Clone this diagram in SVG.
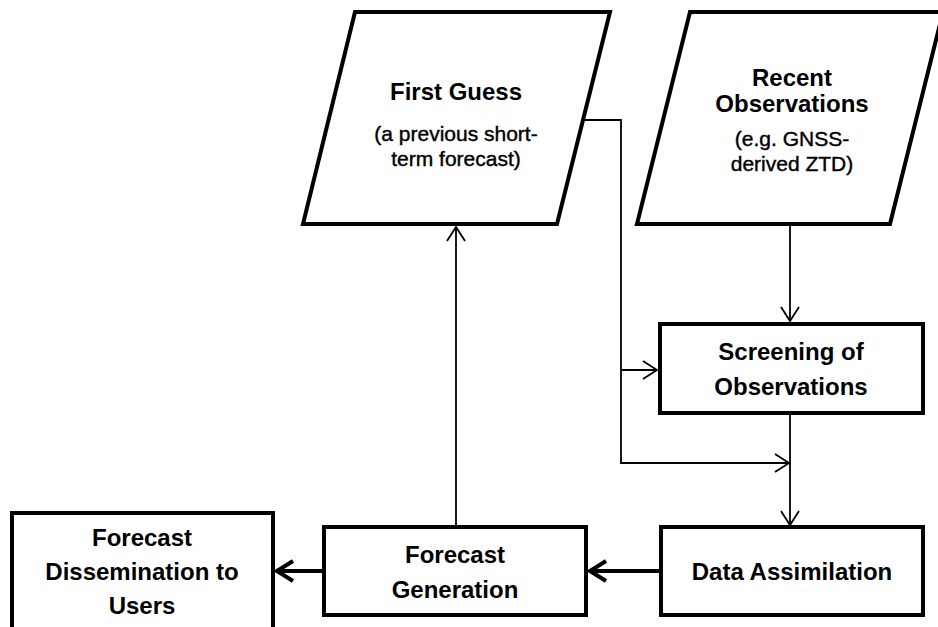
<svg xmlns="http://www.w3.org/2000/svg" width="938" height="627" viewBox="0 0 938 627">
  <style>
    .shape { fill: #ffffff; stroke: #000000; stroke-width: 4; stroke-linejoin: miter; }
    .title { font-family: "Liberation Sans", Arial, sans-serif; font-weight: bold; font-size: 24px; fill: #000000; text-anchor: middle; }
    .sub { font-family: "Liberation Sans", Arial, sans-serif; font-size: 21px; fill: #000000; stroke: #000000; stroke-width: 0.4; text-anchor: middle; }
    .thin { fill: none; stroke: #000000; stroke-width: 1.8; }
    .thick { fill: none; stroke: #000000; stroke-width: 4; }
  </style>
  <defs>
    <marker id="arrThin" viewBox="-16 -11 18 22" refX="0" refY="0" markerWidth="18" markerHeight="22" markerUnits="userSpaceOnUse" orient="auto" overflow="visible">
      <path d="M-14,-9 L0,0 L-14,9" fill="none" stroke="#000000" stroke-width="1.8"/>
    </marker>
    <marker id="arrThick" viewBox="-20 -12 22 24" refX="0" refY="0" markerWidth="22" markerHeight="24" markerUnits="userSpaceOnUse" orient="auto" overflow="visible">
      <path d="M-16,-10 L0,0 L-16,10" fill="none" stroke="#000000" stroke-width="4"/>
    </marker>
  </defs>
  <rect width="938" height="627" fill="#ffffff"/>

  <g id="connectors">
    <path class="thin" d="M456,527 L456,227" marker-end="url(#arrThin)"/>
    <path class="thin" d="M584,120 L621,120 L621,463 L789,463" marker-end="url(#arrThin)"/>
    <path class="thin" d="M621,370 L657,370" marker-end="url(#arrThin)"/>
    <path class="thin" d="M790,225 L790,321" marker-end="url(#arrThin)"/>
    <path class="thin" d="M790,413 L790,525" marker-end="url(#arrThin)"/>
    <path class="thick" d="M661,571 L590,571" marker-end="url(#arrThick)"/>
    <path class="thick" d="M324,571 L277,571" marker-end="url(#arrThick)"/>
  </g>

  <g id="first-guess">
    <polygon class="shape" points="355,12 610,12 557,224 303,224"/>
    <text class="title" x="456" y="100">First Guess</text>
    <text class="sub" x="456" y="141">(a previous short-</text>
    <text class="sub" x="456" y="166">term forecast)</text>
  </g>

  <g id="recent-observations">
    <polygon class="shape" points="690,12 943,12 890,224 637,224"/>
    <text class="title" x="792" y="86">Recent</text>
    <text class="title" x="792" y="112">Observations</text>
    <text class="sub" x="792" y="146">(e.g. GNSS-</text>
    <text class="sub" x="792" y="171">derived ZTD)</text>
  </g>

  <g id="screening">
    <rect class="shape" x="660" y="324" width="263" height="89"/>
    <text class="title" x="791" y="360">Screening of</text>
    <text class="title" x="791" y="395">Observations</text>
  </g>

  <g id="data-assimilation">
    <rect class="shape" x="661" y="527" width="262" height="88"/>
    <text class="title" x="792" y="580">Data Assimilation</text>
  </g>

  <g id="forecast-generation">
    <rect class="shape" x="324" y="527" width="262" height="88"/>
    <text class="title" x="455" y="563">Forecast</text>
    <text class="title" x="455" y="598">Generation</text>
  </g>

  <g id="forecast-dissemination">
    <rect class="shape" x="12" y="513" width="261" height="130"/>
    <text class="title" x="142" y="546">Forecast</text>
    <text class="title" x="142" y="580">Dissemination to</text>
    <text class="title" x="142" y="614">Users</text>
  </g>
</svg>
